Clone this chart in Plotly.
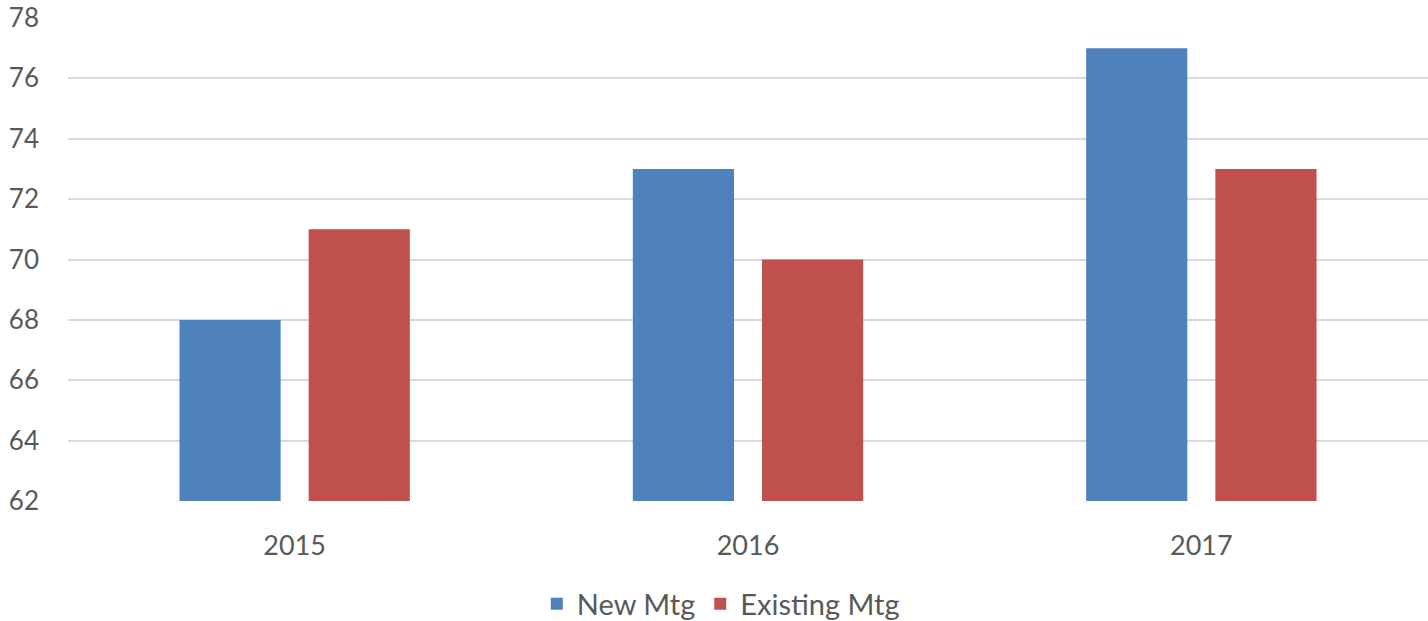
import plotly.graph_objects as go

years = ["2015", "2016", "2017"]
new_mtg = [68, 73, 77]
existing_mtg = [71, 70, 73]
y_ticks = [62, 64, 66, 68, 70, 72, 74, 76, 78]

TEXT = "#595959"
FONT = "Lato"

fig = go.Figure()
fig.add_trace(go.Bar(name="New Mtg", x=years, y=new_mtg,
                     marker=dict(color="#4F81BD", line=dict(width=0))))
fig.add_trace(go.Bar(name="Existing Mtg", x=years, y=existing_mtg,
                     marker=dict(color="#C0504D", line=dict(width=0))))

fig.update_layout(
    width=1428, height=621,
    margin=dict(l=68, r=0, t=18, b=120, autoexpand=False),
    paper_bgcolor="white", plot_bgcolor="white",
    barmode="group", bargap=0.43, bargroupgap=0.217,
    font=dict(family=FONT, size=26, color=TEXT),
    showlegend=True,
    legend=dict(orientation="h", x=0.48, xanchor="center", y=-0.213, yanchor="middle",
                font=dict(size=29, color=TEXT), itemwidth=30, traceorder="normal"),
)
fig.update_yaxes(range=[62, 78], tickvals=y_ticks, showgrid=True, gridcolor="#D9D9D9",
                 gridwidth=1.5, zeroline=False, showline=False, ticks="",
                 automargin=False, ticklabelstandoff=28,
                 tickfont=dict(size=26, color=TEXT))
fig.update_xaxes(showgrid=False, showline=False, ticks="", automargin=False,
                 ticklabelstandoff=26, tickfont=dict(size=27, color=TEXT))

fig.write_html("out.html")
